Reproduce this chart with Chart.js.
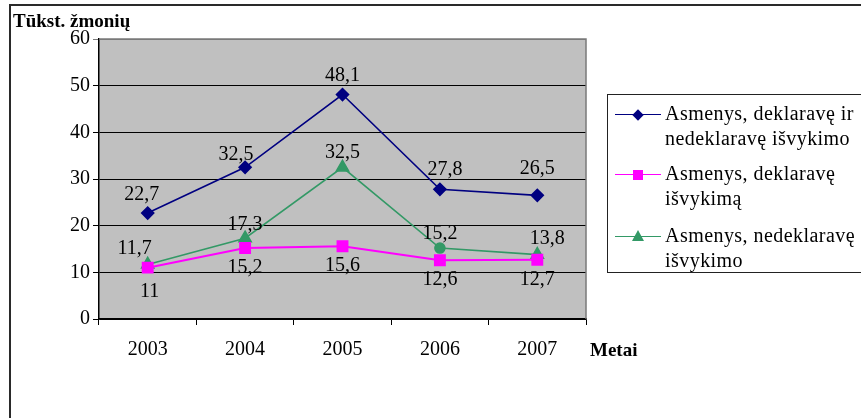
<!DOCTYPE html>
<html>
<head>
<meta charset="utf-8">
<script src="https://cdn.jsdelivr.net/npm/chart.js"></script>
<style>
  html, body { margin: 0; padding: 0; background: #fff; overflow: hidden; }
  #wrap { position: relative; width: 861px; height: 418px; font-family: "Liberation Serif", "Times New Roman", serif; color: #000; }
  #frame { position: absolute; left: 9px; top: 4px; width: 900px; height: 460px; border: 2px solid #2a2a2a; }
  #chart { position: absolute; left: 0; top: 0; }
  .title { position: absolute; font-weight: bold; font-size: 19px; white-space: nowrap; }
  #legend { position: absolute; left: 607px; top: 94px; width: 300px; height: 177px; border: 1px solid #222; }
  .entry { position: absolute; left: 57px; font-size: 20px; line-height: 25px; letter-spacing: 0.45px; white-space: nowrap; }
  .sample { position: absolute; left: 7px; width: 46px; height: 0; }
  .mk { position: absolute; }
</style>
</head>
<body>
<div id="wrap">
  <div id="frame"></div>
  <canvas id="chart" width="861" height="418"></canvas>
  <div class="title" style="left:13px; top:10px;">Tūkst. žmonių</div>
  <div class="title" style="left:590px; top:339px;">Metai</div>
  <div id="legend"></div>
</div>
<script>
const years = ["2003", "2004", "2005", "2006", "2007"];
const seriesNames = [
  ["Asmenys, deklaravę ir", "nedeklaravę išvykimo"],
  ["Asmenys, deklaravę", "išvykimą"],
  ["Asmenys, nedeklaravę", "išvykimo"],
];
const allLeavers = [22.7, 32.5, 48.1, 27.8, 26.5];
const declared = [11, 15.2, 15.6, 12.6, 12.7];
const undeclared = [11.7, 17.3, 32.5, 15.2, 13.8];
const yTicks = [0, 10, 20, 30, 40, 50, 60];

const colors = ["#000080", "#ff00ff", "#339966"];

// label offsets (dx, dy) in pixels, per point
const labelShift = [
  [[-6, -18], [-9, -13], [0, -19], [5, -20], [0, -27]],
  [[2, 24], [0, 20], [0, 20], [0, 20], [0, 20]],
  [[-13, -16], [0, -14], [0, -15], [0, -14], [10, -16]],
];

const plotBg = {
  id: "plotBg",
  beforeDraw(chart) {
    const { ctx, chartArea: a } = chart;
    ctx.save();
    ctx.fillStyle = "#c0c0c0";
    ctx.fillRect(a.left, a.top, a.right - a.left, a.bottom - a.top);
    ctx.restore();
  },
  afterDraw(chart) {
    const { ctx, chartArea: a } = chart;
    ctx.save();
    ctx.strokeStyle = "#7a7a7a";
    ctx.lineWidth = 1.5;
    ctx.beginPath();
    ctx.moveTo(a.left, a.top);
    ctx.lineTo(a.right, a.top);
    ctx.lineTo(a.right, a.bottom);
    ctx.stroke();
    ctx.restore();
  }
};

const valueLabels = {
  id: "valueLabels",
  afterDatasetsDraw(chart) {
    const ctx = chart.ctx;
    ctx.save();
    ctx.font = "20px 'Liberation Serif', serif";
    ctx.fillStyle = "#000";
    ctx.textAlign = "center";
    ctx.textBaseline = "middle";
    chart.data.datasets.forEach((ds, di) => {
      chart.getDatasetMeta(di).data.forEach((pt, i) => {
        const s = labelShift[di][i];
        ctx.fillText(String(ds.data[i]).replace(".", ","), pt.x + s[0], pt.y + s[1]);
      });
    });
    ctx.restore();
  }
};

new Chart(document.getElementById("chart"), {
  type: "line",
  data: {
    labels: years,
    datasets: [
      {
        label: seriesNames[0].join(" "),
        data: allLeavers,
        borderColor: colors[0],
        backgroundColor: colors[0],
        borderWidth: 1.6,
        pointStyle: "rectRot",
        pointRadius: 6,
      },
      {
        label: seriesNames[1].join(" "),
        data: declared,
        borderColor: colors[1],
        backgroundColor: colors[1],
        borderWidth: 2,
        pointStyle: "rect",
        pointRadius: 7,
      },
      {
        label: seriesNames[2].join(" "),
        data: undeclared,
        borderColor: colors[2],
        backgroundColor: colors[2],
        borderWidth: 1.6,
        pointStyle: ["triangle", "triangle", "triangle", "circle", "triangle"],
        pointRadius: [7, 7, 7, 5, 7],
      },
    ],
  },
  options: {
    responsive: false,
    animation: false,
    layout: { padding: { top: 39, right: 275, left: 0, bottom: 0 }, autoPadding: false },
    plugins: { legend: { display: false }, tooltip: { enabled: false } },
    elements: { line: { tension: 0 } },
    scales: {
      x: {
        offset: true,
        grid: { offset: true, drawOnChartArea: false, color: "#000", tickLength: 6 },
        border: { color: "#000", width: 1.5 },
        ticks: { color: "#000", padding: 13, font: { family: "'Liberation Serif', serif", size: 20 } },
        afterFit(scale) { scale.height = 99; },
      },
      y: {
        min: 0,
        max: 60,
        afterBuildTicks(scale) { scale.ticks = yTicks.map(v => ({ value: v })); },
        grid: {
          color: ctx => (ctx.tick && ctx.tick.value === 60 ? "#7a7a7a" : "#000"),
          lineWidth: 1,
          tickLength: 6,
        },
        border: { color: "#000", width: 1.5 },
        ticks: { color: "#000", padding: 3, font: { family: "'Liberation Serif', serif", size: 20 } },
        afterFit(scale) { scale.width = 99; },
      },
    },
  },
  plugins: [plotBg, valueLabels],
});

// legend
const legend = document.getElementById("legend");
const entryTops = [6, 66, 128];
const markers = [
  '<div class="mk" style="left:19px; top:-4px; width:8px; height:8px; background:' + colors[0] + '; transform:rotate(45deg);"></div>',
  '<div class="mk" style="left:18px; top:-5px; width:10px; height:10px; background:' + colors[1] + ';"></div>',
  '<div class="mk" style="left:17px; top:-7px; width:0; height:0; border-left:6px solid transparent; border-right:6px solid transparent; border-bottom:11px solid ' + colors[2] + ';"></div>',
];
seriesNames.forEach((lines, i) => {
  const top = entryTops[i];
  legend.innerHTML +=
    '<div class="sample" style="top:' + (top + 13) + 'px; border-top:1.6px solid ' + colors[i] + ';">' + markers[i] + '</div>' +
    '<div class="entry" style="top:' + top + 'px;">' + lines.join("<br>") + '</div>';
});
</script>
</body>
</html>
